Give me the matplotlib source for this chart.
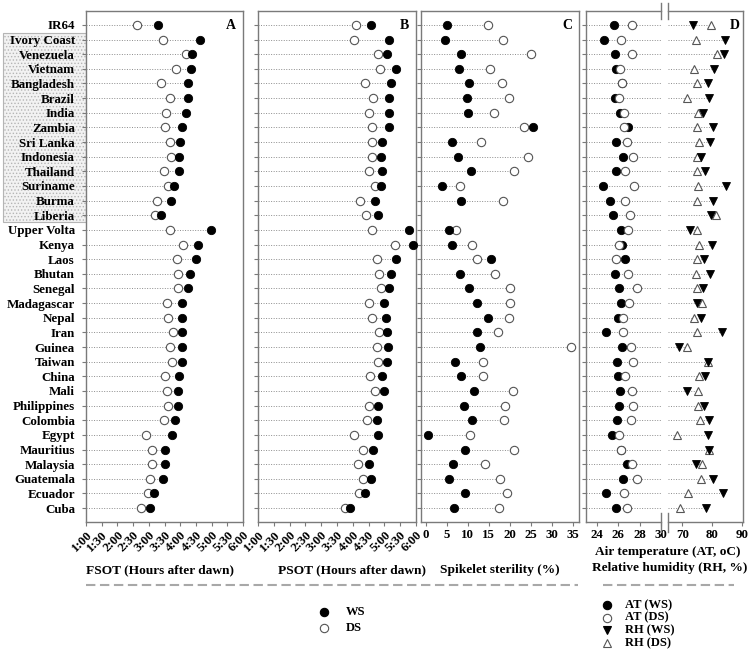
import matplotlib
matplotlib.use('Agg')
import matplotlib.pyplot as plt
import numpy as np
from matplotlib.patches import Rectangle
from matplotlib.lines import Line2D

plt.rcParams['font.family'] = ['Liberation Serif', 'DejaVu Serif']
plt.rcParams['font.weight'] = 'bold'
plt.rcParams['hatch.linewidth'] = 0.6

countries = ['IR64', 'Ivory Coast', 'Venezuela', 'Vietnam', 'Bangladesh', 'Brazil', 'India',
             'Zambia', 'Sri Lanka', 'Indonesia', 'Thailand', 'Suriname', 'Burma', 'Liberia',
             'Upper Volta', 'Kenya', 'Laos', 'Bhutan', 'Senegal', 'Madagascar', 'Nepal', 'Iran',
             'Guinea', 'Taiwan', 'China', 'Mali', 'Philippines', 'Colombia', 'Egypt',
             'Mauritius', 'Malaysia', 'Guatemala', 'Ecuador', 'Cuba']

# FSOT, hours after dawn (decimal hours)
fsot_ws = [3.30, 4.64, 4.39, 4.33, 4.25, 4.25, 4.17, 4.06, 4.00, 3.97, 3.95, 3.81, 3.71, 3.39,
           4.99, 4.57, 4.51, 4.32, 4.26, 4.07, 4.07, 4.07, 4.06, 4.05, 3.96, 3.94, 3.93, 3.82,
           3.73, 3.53, 3.50, 3.44, 3.16, 3.03]
fsot_ds = [2.62, 3.44, 4.17, 3.86, 3.40, 3.66, 3.54, 3.50, 3.69, 3.71, 3.48, 3.62, 3.27, 3.21,
           3.68, 4.09, 3.91, 3.92, 3.94, 3.58, 3.60, 3.78, 3.66, 3.74, 3.52, 3.59, 3.61, 3.49,
           2.90, 3.11, 3.10, 3.04, 2.96, 2.75]
# PSOT, hours after dawn
psot_ws = [4.57, 5.15, 5.07, 5.37, 5.21, 5.16, 5.13, 5.15, 4.93, 4.88, 4.91, 4.88, 4.69, 4.80,
           5.79, 5.90, 5.36, 5.22, 5.16, 4.99, 5.06, 5.07, 5.11, 5.07, 4.93, 4.99, 4.81, 4.76,
           4.81, 4.64, 4.52, 4.57, 4.40, 3.92]
psot_ds = [4.11, 4.05, 4.79, 4.87, 4.39, 4.64, 4.52, 4.62, 4.62, 4.62, 4.51, 4.70, 4.24, 4.41,
           4.61, 5.33, 4.76, 4.83, 4.89, 4.50, 4.60, 4.84, 4.76, 4.80, 4.53, 4.70, 4.51, 4.46,
           4.05, 4.33, 4.15, 4.31, 4.19, 3.74]
# Spikelet sterility (%)
ster_ws = [5.0, 4.7, 8.3, 8.0, 10.2, 9.7, 10.0, 25.4, 6.2, 7.6, 10.7, 3.9, 8.3, np.nan,
           5.6, 6.3, 15.6, 8.1, 10.4, 12.2, 14.8, 12.1, 12.9, 7.0, 8.4, 11.4, 9.1, 11.1,
           0.5, 9.4, 6.5, 5.6, 9.3, 6.8]
ster_ds = [14.8, 18.4, 24.9, 15.2, 18.2, 19.9, 16.3, 23.4, 13.2, 24.3, 20.9, 8.2, 18.4, np.nan,
           7.2, 11.1, 12.1, 16.4, 20.0, 20.0, 19.7, 17.1, 34.5, 13.5, 13.5, 20.8, 18.9, 18.5,
           10.5, 21.0, 14.1, 17.7, 19.4, 17.4]
# Air temperature (oC)
at_ws = [25.64, 24.68, 25.71, 25.77, 26.39, 25.74, 26.17, 26.95, 25.77, 26.48, 25.77, 24.59,
         25.24, 25.55, 26.27, 26.39, 26.67, 25.67, 26.05, 26.23, 25.95, 24.83, 26.39, 25.86,
         25.95, 26.17, 26.05, 25.86, 25.43, 26.30, 26.86, 26.42, 24.87, 25.80]
at_ds = [27.32, 26.27, 27.32, 26.17, 26.39, 26.08, 26.52, 26.52, 26.86, 27.35, 26.67, 27.48,
         26.67, 27.14, 26.95, 26.05, 25.80, 26.89, 27.73, 27.05, 26.48, 26.42, 27.17, 27.42,
         26.67, 27.32, 27.35, 27.17, 26.08, 26.30, 27.32, 27.73, 26.52, 26.86]
# Relative humidity (%)
rh_ws = [73.7, 84.4, 83.9, 80.7, 78.6, 79.0, 76.8, 80.2, 79.3, 76.4, 77.5, 84.7, 80.3, 79.5,
         72.6, 79.9, 77.4, 79.3, 76.8, 75.1, 76.3, 83.3, 68.8, 78.6, 77.5, 71.7, 77.2, 79.0,
         78.6, 79.0, 74.5, 80.2, 83.8, 77.8]
rh_ds = [79.6, 74.6, 81.8, 74.0, 74.9, 71.7, 75.4, 74.9, 75.6, 74.8, 75.1, 75.3, 74.9, 81.4,
         75.1, 75.7, 74.9, 74.5, 74.8, 76.6, 74.0, 74.8, 71.7, 78.6, 75.7, 75.3, 75.4, 76.0,
         68.1, 79.0, 76.6, 76.4, 72.0, 69.2]

time_ticks = [1 + 0.5 * i for i in range(11)]
time_labels = ['1:00', '1:30', '2:00', '2:30', '3:00', '3:30', '4:00', '4:30', '5:00', '5:30', '6:00']
ster_ticks = [0, 5, 10, 15, 20, 25, 30, 35]
at_ticks = [24, 26, 28, 30]
rh_ticks = [70, 80, 90]

W, H = 753, 656
fig = plt.figure(figsize=(W / 100, H / 100), dpi=100)

SPINE = '#7a7a7a'
DOT = '#8c8c8c'
OPEN_EDGE = '#555555'
MS = 6.0
FS_LAB = 9.4
FS_TICK = 9.3
y = np.arange(len(countries))


def fax(x0, x1, y0=11, y1=522):
    return fig.add_axes([x0 / W, 1 - y1 / H, (x1 - x0) / W, (y1 - y0) / H])


def style(ax, xlim):
    ax.set_xlim(*xlim)
    ax.set_ylim(33.95, -0.95)
    ax.set_yticks(y)
    ax.set_yticklabels([])
    for s in ax.spines.values():
        s.set_color(SPINE)
        s.set_linewidth(1.0)
    ax.tick_params(axis='both', color=SPINE, length=3, width=0.8, labelsize=FS_TICK, pad=2)
    ax.tick_params(axis='y', pad=5)


def dots(ax, a, b, left):
    for i in range(len(a)):
        vals = [v for v in (a[i], b[i]) if not np.isnan(v)]
        if not vals:
            continue
        ax.plot([left, max(vals)], [i, i], color=DOT, lw=0.7, ls=(0, (1, 1.6)), zorder=1)


def circles(ax, ws, ds, ws_on_top=True):
    zw, zd = (4, 3) if ws_on_top else (3, 4)
    ax.plot(ds, y, 'o', mfc='white', mec=OPEN_EDGE, mew=0.8, ms=MS, ls='none', clip_on=False, zorder=zd)
    ax.plot(ws, y, 'o', mfc='black', mec='black', mew=0.6, ms=MS, ls='none', clip_on=False, zorder=zw)


def letter(ax, s):
    ax.text(0.955, 0.985, s, transform=ax.transAxes, ha='right', va='top', fontsize=10, weight='bold')


# Panel A
axA = fax(86, 243)
style(axA, (1, 6))
dots(axA, fsot_ws, fsot_ds, 1)
circles(axA, fsot_ws, fsot_ds)
axA.set_yticklabels(countries, fontsize=FS_LAB, weight='bold')
axA.set_xticks(time_ticks)
axA.set_xticklabels(time_labels, rotation=45, ha='right', rotation_mode='anchor', weight='bold')
letter(axA, 'A')

# Panel B
axB = fax(258, 416)
style(axB, (1, 6))
dots(axB, psot_ws, psot_ds, 1)
circles(axB, psot_ws, psot_ds)
axB.set_xticks(time_ticks)
axB.set_xticklabels(time_labels, rotation=45, ha='right', rotation_mode='anchor', weight='bold')
letter(axB, 'B')

# Panel C
axC = fax(421, 579)
style(axC, (-1.1, 36.4))
dots(axC, ster_ws, ster_ds, -1.1)
circles(axC, ster_ws, ster_ds)
axC.set_xticks(ster_ticks)
axC.set_xticklabels([str(t) for t in ster_ticks], weight='bold')
axC.set_zorder(-1)
letter(axC, 'C')

# Panel D (broken axis)
axD1 = fax(586, 661)
style(axD1, (23, 30))
axD1.spines['right'].set_visible(False)
for i in range(len(countries)):
    axD1.plot([23, 30], [i, i], color=DOT, lw=0.7, ls=(0, (1, 1.6)), zorder=1)
circles(axD1, at_ws, at_ds, ws_on_top=False)
axD1.set_xticks(at_ticks)
axD1.set_xticklabels([str(t) for t in at_ticks], weight='bold')

axD2 = fax(668, 743)
style(axD2, (65.2, 90.4))
axD2.spines['left'].set_visible(False)
axD2.tick_params(axis='y', left=False)
for i in range(len(countries)):
    axD2.plot([65.2, max(rh_ws[i], rh_ds[i])], [i, i], color=DOT, lw=0.7, ls=(0, (1, 1.6)), zorder=1)
axD2.plot(rh_ds, y, '^', mfc='white', mec=OPEN_EDGE, mew=0.8, ms=MS, ls='none', clip_on=False, zorder=3)
axD2.plot(rh_ws, y, 'v', mfc='black', mec='black', mew=0.6, ms=MS, ls='none', clip_on=False, zorder=4)
axD2.set_xticks(rh_ticks)
axD2.set_xticklabels([str(t) for t in rh_ticks], weight='bold')
letter(axD2, 'D')

# break marks
for xb in (661, 668):
    for (ya, yb) in ((3, 19), (513, 532)):
        fig.add_artist(Line2D([xb / W, xb / W], [1 - ya / H, 1 - yb / H], color=SPINE, lw=1.0))

# shaded group box behind labels
fig.add_artist(Rectangle((3 / W, 1 - 222 / H), 83 / W, 189 / H, facecolor='#f2f2f2',
                         edgecolor='#b5b5b5', hatch='.....', lw=0.8, zorder=-5))

# axis titles
fs_t = 9.6
fig.text(160 / W, 1 - 570 / H, 'FSOT (Hours after dawn)', ha='center', va='center', fontsize=fs_t, weight='bold')
fig.text(352 / W, 1 - 570 / H, 'PSOT (Hours after dawn)', ha='center', va='center', fontsize=fs_t, weight='bold')
fig.text(500 / W, 1 - 570 / H, 'Spikelet sterility (%)', ha='center', va='center', fontsize=fs_t, weight='bold')
fig.text(668 / W, 1 - 552 / H, 'Air temperature (AT, oC)', ha='center', va='center', fontsize=fs_t, weight='bold')
fig.text(670 / W, 1 - 568 / H, 'Relative humidity (RH, %)', ha='center', va='center', fontsize=fs_t, weight='bold')

# dashed separators
fig.add_artist(Line2D([86 / W, 578 / W], [1 - 585 / H, 1 - 585 / H], color='#a8a8a8', lw=1.5, ls=(0, (4.5, 2.2))))
fig.add_artist(Line2D([603 / W, 734 / W], [1 - 585 / H, 1 - 585 / H], color='#a8a8a8', lw=1.5, ls=(0, (4.5, 2.2))))

# legend 1
leg1 = [('WS', 'o', 'black', 'black'), ('DS', 'o', 'white', OPEN_EDGE)]
for k, (lab, m, fc, ec) in enumerate(leg1):
    yy = 1 - (612 + 16 * k) / H
    fig.add_artist(Line2D([324 / W], [yy], marker=m, mfc=fc, mec=ec, mew=0.8, ms=MS, ls='none'))
    fig.text(346 / W, yy, lab, ha='left', va='center', fontsize=9, weight='bold')

# legend 2
leg2 = [('AT (WS)', 'o', 'black', 'black'), ('AT (DS)', 'o', 'white', OPEN_EDGE),
        ('RH (WS)', 'v', 'black', 'black'), ('RH (DS)', '^', 'white', OPEN_EDGE)]
for k, (lab, m, fc, ec) in enumerate(leg2):
    yy = 1 - (605 + 12.7 * k) / H
    fig.add_artist(Line2D([607 / W], [yy], marker=m, mfc=fc, mec=ec, mew=0.8, ms=MS, ls='none'))
    fig.text(625 / W, yy, lab, ha='left', va='center', fontsize=9, weight='bold')

fig.savefig('out.png', dpi=100)
